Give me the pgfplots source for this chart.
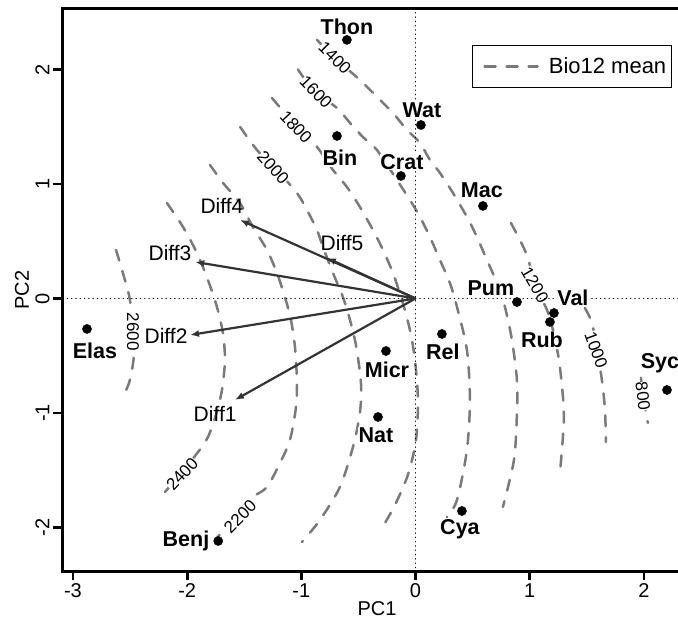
\documentclass[border=0pt]{standalone}
\usepackage{fontspec}
\setmainfont{Liberation Sans}
\usepackage{pgfplots}
\pgfplotsset{compat=1.18}
\usetikzlibrary{arrows.meta}
\definecolor{contourgray}{RGB}{122,122,122}
\definecolor{arrowgray}{RGB}{51,51,51}
\tikzset{
  contour/.style={contourgray, line width=2.5pt, line cap=round, dash pattern=on 11pt off 11pt, smooth},
  clab/.style={font=\fontsize{17}{20}\selectfont, fill=white, inner sep=0pt},
  ptlab/.style={font=\fontsize{21.5}{25}\selectfont\bfseries, fill=white, inner sep=0.8pt},
  difflab/.style={font=\fontsize{21}{25}\selectfont, inner sep=0pt},
  arr/.style={arrowgray, line width=2.2pt, -{Latex[length=9pt,width=7pt]}},
  zeroline/.style={black, line width=1.5pt, line cap=round, dash pattern=on 0.1pt off 4.2pt},
}
\begin{document}
\begin{tikzpicture}
\useasboundingbox (0pt,0pt) rectangle (678pt,619pt);
\clip (0pt,0pt) rectangle (678pt,619pt);
\begin{axis}[
  at={(62pt,48pt)}, anchor=south west,
  scale only axis, width=630pt, height=562pt,
  xmin=-3.096, xmax=2.421, ymin=-2.380, ymax=2.528,
  axis line style={line width=3pt, black},
  xtick={-3,-2,-1,0,1,2}, xticklabels={-3,-2,-1,0,1,2},
  ytick={-2,-1,0,1,2}, yticklabels={-2,-1,0,1,2},
  xtick pos=left, ytick pos=left,
  tick align=outside, major tick length=9pt,
  tick style={line width=2.8pt, black},
  ticklabel style={font=\fontsize{20}{24}\selectfont},
  yticklabel style={rotate=90, anchor=south},
  xlabel={PC1}, ylabel={PC2},
  label style={font=\fontsize{20}{24}\selectfont},
  xlabel style={at={(axis description cs:0.5,0)}, anchor=center, yshift=-38pt},
  ylabel style={at={(axis description cs:0,0.5)}, anchor=center, yshift=40pt},
  legend style={at={(rel axis cs:0.6508,0.9359)}, anchor=north west, draw=black, line width=1.2pt, fill=white,
    inner xsep=5pt, inner ysep=0pt, nodes={inner sep=0pt}, column sep=10pt,
    font=\fontsize{22}{26}\selectfont},
  legend cell align=left,
  legend image code/.code={\path[draw=none, fill=none] (0pt,-21pt) rectangle (60pt,21pt); \draw[#1] (7pt,0pt) -- (60pt,0pt);},
]
% contours of Bio12 mean
\addplot[contour] coordinates {(1.974,-0.692) (1.991,-0.852) (2.017,-0.991) (2.035,-1.087)};
\addlegendentry{Bio12 mean}
\addplot[contour, forget plot] coordinates {(1.483,-0.083) (1.545,-0.214) (1.589,-0.450) (1.632,-0.712) (1.659,-0.974) (1.667,-1.253)};
\addplot[contour, forget plot] coordinates {(0.835,0.660) (0.914,0.511) (0.984,0.354) (1.046,0.118) (1.151,-0.100) (1.203,-0.275) (1.256,-0.537) (1.291,-0.860) (1.299,-1.061) (1.282,-1.323) (1.264,-1.524)};
\addplot[contour, forget plot] coordinates {(-0.863,2.258) (-0.706,2.100) (-0.487,1.908) (-0.338,1.760) (-0.198,1.620) (-0.075,1.472) (0.039,1.358) (0.126,1.210) (0.214,1.096) (0.328,0.921) (0.450,0.712) (0.538,0.537) (0.625,0.336) (0.713,0.135) (0.783,-0.074) (0.844,-0.362) (0.888,-0.712) (0.888,-1.000) (0.862,-1.410) (0.765,-1.821)};
\addplot[contour, forget plot] coordinates {(-1.030,2.000) (-0.881,1.803) (-0.688,1.664) (-0.574,1.533) (-0.461,1.410) (-0.338,1.297) (-0.163,1.035) (-0.049,0.860) (0.039,0.712) (0.126,0.537) (0.214,0.336) (0.301,0.135) (0.363,-0.074) (0.450,-0.450) (0.476,-0.886) (0.450,-1.323) (0.363,-1.760) (0.275,-1.908)};
\addplot[contour, forget plot] coordinates {(-1.257,1.751) (-1.047,1.507) (-0.863,1.323) (-0.723,1.122) (-0.601,0.974) (-0.487,0.799) (-0.373,0.598) (-0.285,0.424) (-0.198,0.223) (-0.119,-0.013) (-0.049,-0.275) (-0.005,-0.537) (0.021,-0.886) (0.004,-1.236) (-0.067,-1.541) (-0.180,-1.803) (-0.268,-1.961)};
\addplot[contour, forget plot] coordinates {(-1.536,1.498) (-1.389,1.297) (-1.231,1.140) (-1.039,0.921) (-0.951,0.773) (-0.863,0.598) (-0.811,0.450) (-0.723,0.223) (-0.636,0.013) (-0.574,-0.188) (-0.522,-0.406) (-0.478,-0.738) (-0.487,-1.000) (-0.548,-1.297) (-0.662,-1.646) (-0.837,-1.934) (-0.995,-2.127)};
\addplot[contour, forget plot] coordinates {(-1.800,1.166) (-1.686,1.009) (-1.538,0.834) (-1.424,0.624) (-1.301,0.424) (-1.214,0.223) (-1.144,0.013) (-1.091,-0.188) (-1.056,-0.424) (-1.039,-0.712) (-1.047,-0.948) (-1.100,-1.236) (-1.187,-1.437) (-1.301,-1.646) (-1.424,-1.734) (-1.555,-1.865) (-1.739,-2.092)};
\addplot[contour, forget plot] coordinates {(-2.177,0.834) (-2.036,0.624) (-1.914,0.397) (-1.818,0.162) (-1.739,-0.074) (-1.687,-0.301) (-1.669,-0.537) (-1.695,-0.799) (-1.748,-1.017) (-1.818,-1.210) (-1.905,-1.341) (-2.045,-1.515) (-2.194,-1.690)};
\addplot[contour, forget plot] coordinates {(-2.623,0.424) (-2.545,0.162) (-2.501,-0.013) (-2.475,-0.275) (-2.466,-0.493) (-2.501,-0.712) (-2.562,-0.860)};
% contour labels
\node[clab, rotate=-83] at (axis cs:1.991,-0.852) {800};
\node[clab, rotate=-70] at (axis cs:1.581,-0.450) {1000};
\node[clab, rotate=-60] at (axis cs:1.046,0.118) {1200};
\node[clab, rotate=-45] at (axis cs:-0.706,2.100) {1400};
\node[clab, rotate=-46] at (axis cs:-0.872,1.803) {1600};
\node[clab, rotate=-47] at (axis cs:-1.047,1.498) {1800};
\node[clab, rotate=-48] at (axis cs:-1.247,1.140) {2000};
\node[clab, rotate=45] at (axis cs:-1.536,-1.904) {2200};
\node[clab, rotate=47] at (axis cs:-2.044,-1.533) {2400};
\node[clab, rotate=-90] at (axis cs:-2.475,-0.292) {2600};
% zero lines
\addplot[zeroline, forget plot] coordinates {(-3.2,0) (2.6,0)};
\addplot[zeroline, forget plot] coordinates {(0,-2.5) (0,2.6)};
% fitted vectors
\addplot[arr, forget plot] coordinates {(0,0) (-1.581,-0.886)};
\addplot[arr, forget plot] coordinates {(0,0) (-1.975,-0.319)};
\addplot[arr, forget plot] coordinates {(0,0) (-1.930,0.319)};
\addplot[arr, forget plot] coordinates {(0,0) (-1.538,0.686)};
\addplot[arr, forget plot] coordinates {(0,0) (-0.776,0.354)};
\node[difflab] at (axis cs:-1.755,-1.009) {Diff1};
\node[difflab] at (axis cs:-2.185,-0.328) {Diff2};
\node[difflab] at (axis cs:-2.150,0.397) {Diff3};
\node[difflab] at (axis cs:-1.695,0.808) {Diff4};
\node[difflab] at (axis cs:-0.644,0.485) {Diff5};
% sites
\addplot[only marks, mark=*, mark size=4.6pt, black, forget plot] coordinates {
(-0.601,2.258) (0.047,1.515) (-0.688,1.419) (-0.128,1.070) (0.590,0.808)
(0.888,-0.031) (1.212,-0.127) (1.177,-0.205) (0.231,-0.310) (-0.259,-0.459)
(-0.329,-1.035) (0.406,-1.856) (2.202,-0.799) (-2.877,-0.266) (-1.728,-2.118)};
\node[ptlab] at (axis cs:-0.601,2.371) {Thon};
\node[ptlab] at (axis cs:0.056,1.646) {Wat};
\node[ptlab] at (axis cs:-0.662,1.227) {Bin};
\node[ptlab] at (axis cs:-0.119,1.192) {Crat};
\node[ptlab] at (axis cs:0.581,0.948) {Mac};
\node[ptlab] at (axis cs:0.660,0.092) {Pum};
\node[ptlab] at (axis cs:1.378,0.004) {Val};
\node[ptlab] at (axis cs:1.107,-0.362) {Rub};
\node[ptlab] at (axis cs:0.240,-0.467) {Rel};
\node[ptlab] at (axis cs:-0.250,-0.624) {Micr};
\node[ptlab] at (axis cs:-0.347,-1.192) {Nat};
\node[ptlab] at (axis cs:0.389,-2.013) {Cya};
\node[ptlab] at (axis cs:2.140,-0.563) {Syc};
\node[ptlab] at (axis cs:-2.807,-0.459) {Elas};
\node[ptlab] at (axis cs:-2.010,-2.118) {Benj};
\end{axis}
\end{tikzpicture}
\end{document}
